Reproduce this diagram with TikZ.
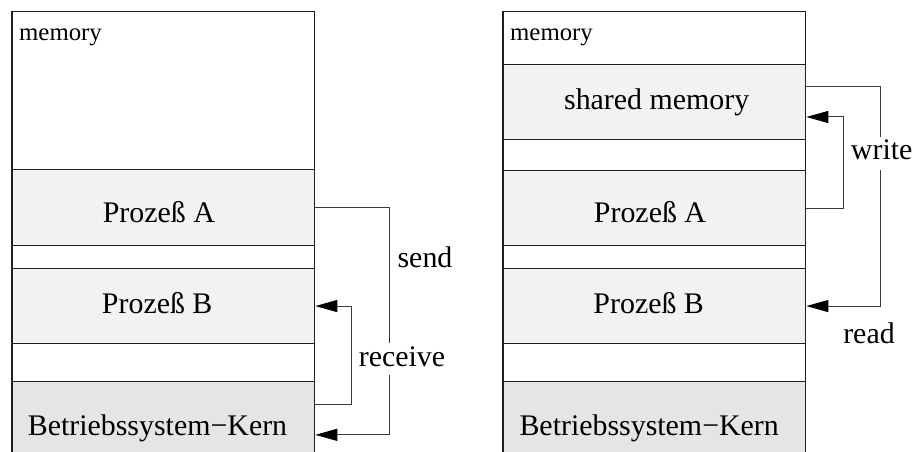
\documentclass[tikz,border=0pt]{standalone}
\usepackage{fontspec}
\setmainfont{Liberation Serif}
\usetikzlibrary{arrows.meta}
\definecolor{boxc}{HTML}{1E1E1E}
\definecolor{connc}{HTML}{3A3A3A}
\definecolor{procfill}{HTML}{F2F2F2}
\definecolor{kernfill}{HTML}{E5E5E5}
\tikzset{
  seg/.style={draw=boxc, line width=1.1pt, inner sep=0pt, anchor=north west,
              minimum width=302.5pt},
  big/.style={font=\fontsize{29.9}{34}\selectfont, inner sep=0pt, anchor=base},
  small/.style={font=\fontsize{24.8}{28}\selectfont, inner sep=0pt, anchor=base west},
  conn/.style={draw=connc, line width=1pt},
  arrowtip/.style={-{Triangle[length=22pt,width=12pt,color=black,fill=black]}},
  gaplabel/.style={big, fill=white, text height=22.7pt, text depth=7.3pt, inner ysep=1pt, inner xsep=2pt}
}
\begin{document}
\begin{tikzpicture}[x=1pt,y=-1pt]
\useasboundingbox (0,0) rectangle (914,452);
\clip (0,0) rectangle (914,452);
\fill[white] (0,0) rectangle (914,452);

% ---- message passing through the kernel ----
\node[seg, minimum height=158.3pt] (lM) at (11.7,11) {};
\node[seg, fill=procfill, minimum height=76pt] (lA) at (11.7,169.3) {};
\node[seg, minimum height=22.4pt] (lG1) at (11.7,245.3) {};
\node[seg, fill=procfill, minimum height=75.6pt] (lB) at (11.7,267.7) {};
\node[seg, minimum height=38pt] (lG2) at (11.7,343.3) {};
\node[seg, fill=kernfill, minimum height=106pt] (lK) at (11.7,381.3) {};
\draw[boxc, line width=2pt] (lM.north west) -- (lK.south west);

\node[small] (lMt) at (19,40.7) {memory};
\node[big] (lAt) at (158.9,222.7) {Prozeß A};
\node[big] (lBt) at (157.2,313.3) {Prozeß B};
\node[big] (lKt) at (157.5,435) {Betriebssystem\char"2212 Kern};

\coordinate (sendTurn) at (389.3,0);
\coordinate (recvStart) at (lK.north east |- 0,404);
\coordinate (recvTurn) at (351.7,0);

\draw[conn, arrowtip] (lA.east) -| (sendTurn |- lK.east) -- (lK.east);
\node[big] (sendL) at (425,267.3) {send};
\draw[conn, arrowtip] (recvStart) -| (recvTurn |- lB.east) -- (lB.east);
\node[gaplabel] (recvL) at (402,366.7) {receive};

% ---- shared memory ----
\node[seg, minimum height=53pt] (rM) at (502.7,11) {};
\node[seg, fill=procfill, minimum height=75.3pt] (rS) at (502.7,64) {};
\node[seg, minimum height=30.7pt] (rG0) at (502.7,139.3) {};
\node[seg, fill=procfill, minimum height=75.3pt] (rA) at (502.7,170) {};
\node[seg, minimum height=22.4pt] (rG1) at (502.7,245.3) {};
\node[seg, fill=procfill, minimum height=75.6pt] (rB) at (502.7,267.7) {};
\node[seg, minimum height=38pt] (rG2) at (502.7,343.3) {};
\node[seg, fill=kernfill, minimum height=106pt] (rK) at (502.7,381.3) {};
\draw[boxc, line width=2pt] (rM.north west) -- (rK.south west);

\node[small] (rMt) at (510,40.7) {memory};
\node[big] (rSt) at (656.7,110) {shared memory};
\node[big] (rAt) at (650,222.7) {Prozeß A};
\node[big] (rBt) at (648.7,313.3) {Prozeß B};
\node[big] (rKt) at (649.2,435) {Betriebssystem\char"2212 Kern};

\coordinate (readStart) at (rS.north east |- 0,87);
\coordinate (readTurn) at (880.7,0);
\coordinate (writeEnd) at (rS.north east |- 0,117);
\coordinate (writeTurn) at (843.3,0);

\draw[conn, arrowtip] (readStart) -| (readTurn |- rB.east) -- (rB.east);
\draw[conn, arrowtip] (rA.east) -| (writeTurn |- writeEnd) -- (writeEnd);
\node[big, fill=white, text height=22.7pt, text depth=10pt, inner ysep=0pt, inner xsep=2pt] (writeL) at (881.7,160) {write};
\node[big] (readL) at (869,343.3) {read};
\end{tikzpicture}
\end{document}
